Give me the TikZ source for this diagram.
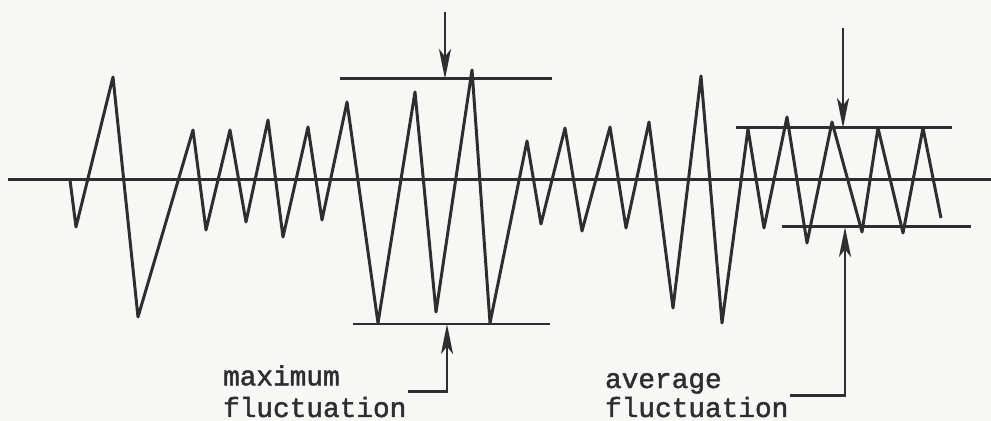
\documentclass[tikz,border=0pt]{standalone}
\usepackage{fontspec}
\newfontfamily\typewr[FakeBold=1.6]{Liberation Mono}
\usepackage{xcolor}
\usetikzlibrary{positioning,arrows.meta}
\definecolor{ink}{HTML}{2E2E2E}
\definecolor{paper}{HTML}{F7F7F6}

\begin{document}
\begin{tikzpicture}[x=0.02cm, y=-0.02cm,
  trace/.style={ink, line width=1.7pt, line join=round},
  level/.style={ink, line width=1.7pt},
  arr/.style={-{Stealth[length=6mm, width=2.4mm, inset=1.5mm]}, ink, line width=1.6pt},
  lbl/.style={align=left, inner sep=1pt, text=ink, font=\typewr\fontsize{15.8}{18}\selectfont}]
\fill[paper] (0,0) rectangle (991,421);
\useasboundingbox (0,0) rectangle (991,421);
\draw[level] (8,180) -- (991,180);
\draw[trace] plot coordinates {(70,180) (76,227) (113,77) (138,317) (193,130) (206,230)
  (230,130) (246,222) (268,120) (283,237) (308,127) (322,220) (347,102) (378,323)
  (415,92) (436,312) (472,70) (490,323) (527,141) (541,224) (565,128) (582,231)
  (610,127) (626,228) (649,122) (673,308) (701,76) (722,323) (748,129) (764,228)
  (787,117) (807,243) (832,122) (862,232) (878,128) (903,233) (923,128) (941,218)};
\coordinate (maxtopl) at (340,79);
\coordinate (maxtopr) at (552,79);
\coordinate (maxbotl) at (353,324);
\coordinate (maxbotr) at (550,324);
\coordinate (avgtopl) at (736,128);
\coordinate (avgtopr) at (952,128);
\coordinate (avgbotl) at (782,227);
\coordinate (avgbotr) at (971,227);
\coordinate (maxin) at (445,12);
\coordinate (maxhit) at (445,79);
\coordinate (maxup) at (447,324);
\coordinate (avgin) at (843,28);
\coordinate (avghit) at (843,128);
\coordinate (avgup) at (845,227);
\draw[level] (maxtopl) -- (maxtopr);
\draw[level] (maxbotl) -- (maxbotr);
\draw[level] (avgtopl) -- (avgtopr);
\draw[level] (avgbotl) -- (avgbotr);
\node[lbl, anchor=base west] (maxlbl) at (221,417) {maximum\\fluctuation};
\node[lbl, anchor=base west] (avglbl) at (603,417) {average\\[-1.5pt]fluctuation};
\draw[arr] (maxin) -- (maxhit);
\draw[arr] (avgin) -- (avghit);
\draw[arr] (maxlbl.east) -| (maxup);
\draw[arr] (avglbl.east) -| (avgup);
\end{tikzpicture}
\end{document}
